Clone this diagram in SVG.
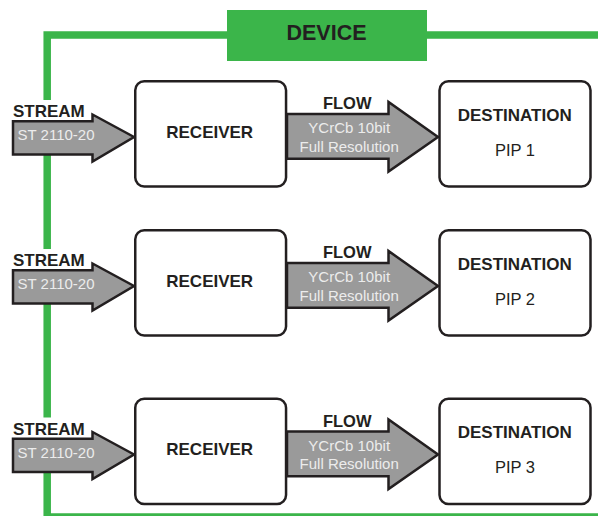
<svg xmlns="http://www.w3.org/2000/svg" width="598" height="516" viewBox="0 0 598 516">
  <defs>
    <style>
      .frame { fill: none; stroke: #3bb54a; stroke-width: 7.5; }
      .box { fill: #ffffff; stroke: #231f20; stroke-width: 2.5; }
      .arrow { fill: #9a9a9a; stroke: #231f20; stroke-width: 2.5; stroke-linejoin: miter; }
      .bold { font-family: "Liberation Sans", Arial, sans-serif; font-weight: bold; fill: #231f20; }
      .reg { font-family: "Liberation Sans", Arial, sans-serif; fill: #231f20; }
      .inner { font-family: "Liberation Sans", Arial, sans-serif; fill: #ececec; font-size: 15px; }
      .mid { text-anchor: middle; }
    </style>
    <!-- one row: stream arrow, receiver, flow arrow, destination -->
  </defs>

  <!-- device boundary -->
  <g id="device">
    <polyline class="frame" points="598,35 47.2,35 47.2,517 598,517"/>
    <rect x="227" y="10" width="200" height="51" fill="#3bb54a"/>
    <text class="bold mid" x="326.5" y="40" font-size="21.5">DEVICE</text>
  </g>

  <!-- connectors: stream and flow arrows -->
  <g id="connectors">
    <g id="stream1">
      <rect x="12" y="100" width="76" height="21" fill="#ffffff"/>
      <polygon class="arrow" points="13,121.3 92.5,121.3 92.5,114.5 134,137 92.5,161.5 92.5,154.5 13,154.5"/>
      <text class="bold" x="13" y="117.3" font-size="17">STREAM</text>
      <text class="inner" x="17.5" y="140">ST 2110-20</text>
    </g>
    <g id="flow1">
      <polygon class="arrow" points="287,114 388.5,114 388.5,102 438,137 388.5,171.5 388.5,158.7 287,158.7"/>
      <text class="bold mid" x="347.2" y="109" font-size="16.5">FLOW</text>
      <text class="inner mid" x="349.2" y="133.3">YCrCb 10bit</text>
      <text class="inner mid" x="349.2" y="151.7">Full Resolution</text>
    </g>
    <g id="stream2" transform="translate(0,149)">
      <rect x="12" y="100" width="76" height="21" fill="#ffffff"/>
      <polygon class="arrow" points="13,121.3 92.5,121.3 92.5,114.5 134,137 92.5,161.5 92.5,154.5 13,154.5"/>
      <text class="bold" x="13" y="117.3" font-size="17">STREAM</text>
      <text class="inner" x="17.5" y="140">ST 2110-20</text>
    </g>
    <g id="flow2" transform="translate(0,149)">
      <polygon class="arrow" points="287,114 388.5,114 388.5,102 438,137 388.5,171.5 388.5,158.7 287,158.7"/>
      <text class="bold mid" x="347.2" y="109" font-size="16.5">FLOW</text>
      <text class="inner mid" x="349.2" y="133.3">YCrCb 10bit</text>
      <text class="inner mid" x="349.2" y="151.7">Full Resolution</text>
    </g>
    <g id="stream3" transform="translate(0,317.5)">
      <rect x="12" y="100" width="76" height="21" fill="#ffffff"/>
      <polygon class="arrow" points="13,121.3 92.5,121.3 92.5,114.5 134,137 92.5,161.5 92.5,154.5 13,154.5"/>
      <text class="bold" x="13" y="117.3" font-size="17">STREAM</text>
      <text class="inner" x="17.5" y="140">ST 2110-20</text>
    </g>
    <g id="flow3" transform="translate(0,317.5)">
      <polygon class="arrow" points="287,114 388.5,114 388.5,102 438,137 388.5,171.5 388.5,158.7 287,158.7"/>
      <text class="bold mid" x="347.2" y="109" font-size="16.5">FLOW</text>
      <text class="inner mid" x="349.2" y="133.3">YCrCb 10bit</text>
      <text class="inner mid" x="349.2" y="151.7">Full Resolution</text>
    </g>
  </g>

  <!-- receivers -->
  <g id="receiver1">
    <rect class="box" x="135.25" y="81.25" width="150.8" height="105.2" rx="9"/>
    <text class="bold mid" x="209.7" y="137.7" font-size="17">RECEIVER</text>
  </g>
  <g id="receiver2" transform="translate(0,149)">
    <rect class="box" x="135.25" y="81.25" width="150.8" height="105.2" rx="9"/>
    <text class="bold mid" x="209.7" y="137.7" font-size="17">RECEIVER</text>
  </g>
  <g id="receiver3" transform="translate(0,317.5)">
    <rect class="box" x="135.25" y="81.25" width="150.8" height="105.2" rx="9"/>
    <text class="bold mid" x="209.7" y="137.7" font-size="17">RECEIVER</text>
  </g>

  <!-- destinations -->
  <g id="destination1">
    <rect class="box" x="439.5" y="81.25" width="151" height="105.2" rx="9"/>
    <text class="bold mid" x="514.7" y="120.7" font-size="17">DESTINATION</text>
    <text class="reg mid" x="515" y="155.7" font-size="16.5">PIP 1</text>
  </g>
  <g id="destination2" transform="translate(0,149)">
    <rect class="box" x="439.5" y="81.25" width="151" height="105.2" rx="9"/>
    <text class="bold mid" x="514.7" y="120.7" font-size="17">DESTINATION</text>
    <text class="reg mid" x="515" y="155.7" font-size="16.5">PIP 2</text>
  </g>
  <g id="destination3" transform="translate(0,317.5)">
    <rect class="box" x="439.5" y="81.25" width="151" height="105.2" rx="9"/>
    <text class="bold mid" x="514.7" y="120.7" font-size="17">DESTINATION</text>
    <text class="reg mid" x="515" y="155.7" font-size="16.5">PIP 3</text>
  </g>
</svg>
